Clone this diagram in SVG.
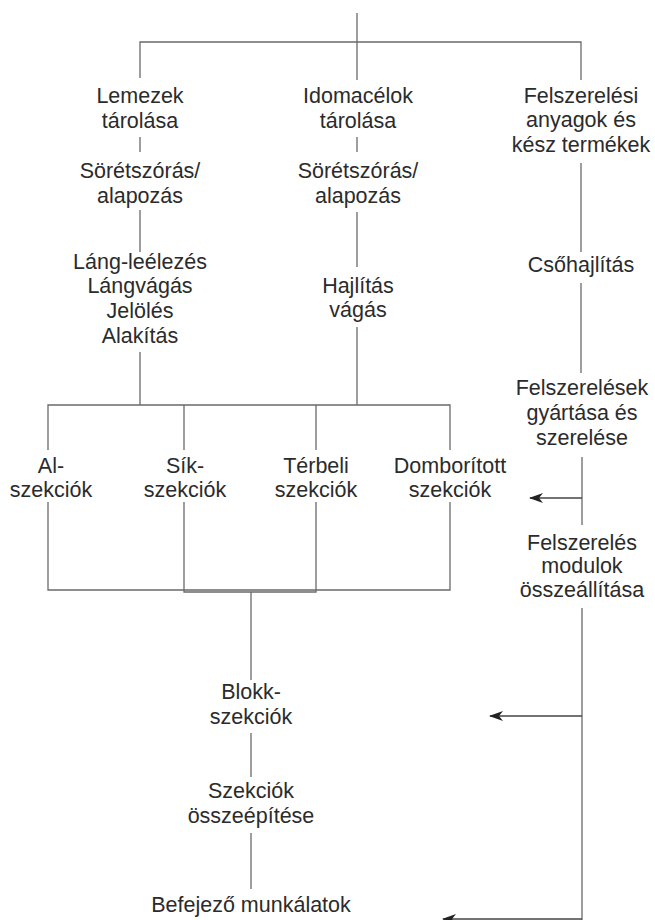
<svg xmlns="http://www.w3.org/2000/svg" width="655" height="920" viewBox="0 0 655 920">
<defs>
<style>
.t{font-family:"Liberation Sans",Arial,sans-serif;font-size:21.5px;fill:#2b2b2b;text-anchor:middle}
.c{stroke:#6a6a6a;stroke-width:1.3;fill:none}
.a{stroke:#444;stroke-width:1.6;fill:none;marker-end:url(#ah)}
</style>
<marker id="ah" viewBox="0 0 14 10" refX="13" refY="5" markerWidth="14" markerHeight="10" markerUnits="userSpaceOnUse" orient="auto">
<path d="M0,0 L14,5 L0,10 L4,5 Z" fill="#222"/>
</marker>
</defs>
<rect width="655" height="920" fill="#fff"/>
<g id="connectors">
<path class="c" d="M357,13 V80"/>
<path class="c" d="M140,78 V42 H581 V80"/>
<path class="c" d="M140,137 V152 M357,137 V152"/>
<path class="c" d="M581,163 V252"/>
<path class="c" d="M140,210 V252 M357,212 V267"/>
<path class="c" d="M140,352 V405 M357,327 V405"/>
<path class="c" d="M48,450 V405 H450 V450 M184,405 V450 M316,405 V450"/>
<path class="c" d="M48,502 V590 H450 V502"/>
<path class="c" d="M184,502 V592 H316 V502"/>
<path class="c" d="M251,592 V680 M251,733 V777 M251,833 V889"/>
<path class="c" d="M581,283 V373"/>
<path class="c" d="M582,457 V525 M582,608 V920"/>
<path class="a" d="M582,498 H530"/>
<path class="a" d="M582,716 H490"/>
<path class="a" d="M582,919 H443"/>
</g>
<g id="n-lemezek"><text class="t" x="140" y="103">Lemezek</text><text class="t" x="140" y="128">tárolása</text></g>
<g id="n-sorets1"><text class="t" x="140" y="178">Sörétszórás/</text><text class="t" x="140" y="203">alapozás</text></g>
<g id="n-lang"><text class="t" x="140" y="269">Láng-leélezés</text><text class="t" x="140" y="293">Lángvágás</text><text class="t" x="140" y="318">Jelölés</text><text class="t" x="140" y="343">Alakítás</text></g>
<g id="n-idomacelok"><text class="t" x="358" y="103">Idomacélok</text><text class="t" x="358" y="128">tárolása</text></g>
<g id="n-sorets2"><text class="t" x="358" y="178">Sörétszórás/</text><text class="t" x="358" y="203">alapozás</text></g>
<g id="n-hajlitas"><text class="t" x="358" y="293">Hajlítás</text><text class="t" x="358" y="317">vágás</text></g>
<g id="n-felszerelesi"><text class="t" x="581" y="103">Felszerelési</text><text class="t" x="581" y="127">anyagok és</text><text class="t" x="581" y="152">kész termékek</text></g>
<g id="n-csohajlitas"><text class="t" x="581" y="272">Csőhajlítás</text></g>
<g id="n-felszerelesek"><text class="t" x="582" y="395">Felszerelések</text><text class="t" x="582" y="420">gyártása és</text><text class="t" x="582" y="445">szerelése</text></g>
<g id="n-modulok"><text class="t" x="582" y="550">Felszerelés</text><text class="t" x="582" y="573">modulok</text><text class="t" x="582" y="597">összeállítása</text></g>
<g id="n-al"><text class="t" x="51" y="473">Al-</text><text class="t" x="51" y="497">szekciók</text></g>
<g id="n-sik"><text class="t" x="185" y="473">Sík-</text><text class="t" x="185" y="497">szekciók</text></g>
<g id="n-terbeli"><text class="t" x="316" y="473">Térbeli</text><text class="t" x="316" y="497">szekciók</text></g>
<g id="n-dombor"><text class="t" x="450" y="473">Domborított</text><text class="t" x="450" y="497">szekciók</text></g>
<g id="n-blokk"><text class="t" x="251" y="699">Blokk-</text><text class="t" x="251" y="724">szekciók</text></g>
<g id="n-osszeepites"><text class="t" x="251" y="798">Szekciók</text><text class="t" x="251" y="823">összeépítése</text></g>
<g id="n-befejezo"><text class="t" x="251" y="912">Befejező munkálatok</text></g>
</svg>
